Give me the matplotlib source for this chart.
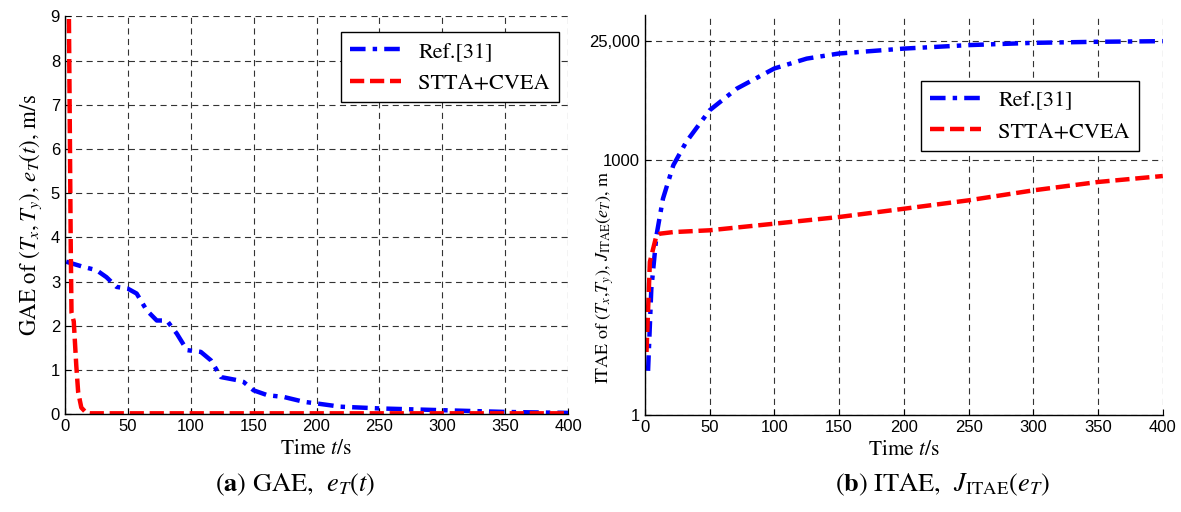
import matplotlib
matplotlib.use("Agg")
import matplotlib.pyplot as plt
from matplotlib.ticker import FixedLocator, NullLocator

# (a) GAE over time
t_ref_a = [1, 15, 25, 33, 41, 50, 57, 65, 73, 81, 89, 97, 108, 116, 124, 137, 142,
           150, 161, 174, 190, 201, 219, 251, 301, 352, 400]
gae_ref = [3.45, 3.33, 3.26, 3.10, 2.88, 2.84, 2.73, 2.35, 2.12, 2.12, 1.82, 1.45, 1.41,
           1.22, 0.84, 0.77, 0.73, 0.54, 0.43, 0.39, 0.28, 0.24, 0.17, 0.13, 0.09, 0.05, 0.03]
t_stta_a = [3, 4, 4.6, 5.2, 7, 9, 10.5, 13, 17, 20, 400]
gae_stta = [9.5, 6.0, 3.8, 2.3, 2.1, 1.1, 0.5, 0.15, 0.03, 0.02, 0.02]

# (b) ITAE over time
t_ref_b = [2.5, 5, 9, 14, 22, 32, 50, 71, 100, 125, 150, 200, 250, 300, 350, 400]
itae_ref = [3.3, 30, 129, 348, 860, 1620, 3800, 6840, 11800, 15400, 17700, 20200,
            22200, 23600, 24300, 24700]
t_stta_b = [1.3, 3.9, 9, 11.6, 22, 50, 100, 150, 200, 250, 300, 350, 400]
itae_stta = [5.5, 63, 129, 135, 141, 148, 177, 212, 265, 333, 436, 547, 643]

x_ticks = [0, 50, 100, 150, 200, 250, 300, 350, 400]
itae_ticks = [1, 1000, 25000]
itae_tick_labels = ["1", "1000", "25,000"]
labels = ["Ref.[31]", "STTA+CVEA"]

plt.rcParams["mathtext.fontset"] = "stix"
SERIF = "STIXGeneral"
SANS = "Liberation Sans"

fig = plt.figure(figsize=(11.81, 5.12), dpi=100)
ax1 = fig.add_axes([0.055, 0.191, 0.426, 0.777])
ax2 = fig.add_axes([0.546, 0.1895, 0.4386, 0.781])

ref_style = dict(color="#0000ff", lw=3.2, linestyle=(0, (3.5, 1.6, 1.0, 1.6)))
stta_style = dict(color="#ff0000", lw=3.2, linestyle=(0, (3.2, 1.3)))

ax1.plot(t_ref_a, gae_ref, label=labels[0], **ref_style)
ax1.plot(t_stta_a, gae_stta, label=labels[1], **stta_style)
ax1.set_xlim(0, 400)
ax1.set_ylim(0, 9)
ax1.set_xticks(x_ticks)
ax1.set_yticks(range(10))
ax1.set_xlabel(r"Time $t$/s", family=SERIF, fontsize=15.5, labelpad=4)
ax1.set_ylabel(r"GAE of $(T_x, T_y)$, $e_T(t)$, m/s", family=SERIF, fontsize=16.5, labelpad=5)

ax2.plot(t_ref_b, itae_ref, label=labels[0], **ref_style)
ax2.plot(t_stta_b, itae_stta, label=labels[1], **stta_style)
ax2.set_yscale("log")
ax2.set_xlim(0, 400)
ax2.set_ylim(1, 5e4)
ax2.set_xticks(x_ticks)
ax2.yaxis.set_major_locator(FixedLocator(itae_ticks))
ax2.set_yticklabels(itae_tick_labels)
ax2.yaxis.set_minor_locator(NullLocator())
ax2.set_xlabel(r"Time $t$/s", family=SERIF, fontsize=15.5, labelpad=4)
ax2.set_ylabel(r"ITAE of $(T_x{,}T_y)$, $J_{\mathrm{ITAE}}(e_T)$, m", family=SERIF, fontsize=13)
ax2.yaxis.set_label_coords(-0.055, 0.345)

for ax in (ax1, ax2):
    ax.spines["top"].set_visible(False)
    ax.spines["right"].set_visible(False)
    for s in ("left", "bottom"):
        ax.spines[s].set_linewidth(1.0)
    ax.grid(True, color="0.2", lw=0.8, linestyle=(0, (5.5, 4)))
    ax.tick_params(direction="in", length=4, width=0.8, labelsize=12)
    for lab in ax.get_xticklabels() + ax.get_yticklabels():
        lab.set_family(SANS)

leg_kw = dict(loc="upper right", borderaxespad=0, fancybox=False, framealpha=1,
              edgecolor="black", handlelength=2.3, prop={"family": SERIF, "size": 16})
l1 = ax1.legend(bbox_to_anchor=(0.982, 0.96), **leg_kw)
l2 = ax2.legend(bbox_to_anchor=(0.954, 0.835), **leg_kw)
for l in (l1, l2):
    l.get_frame().set_linewidth(1.0)

fig.text(0.25, 0.053, r"($\mathbf{a}$) GAE,  $e_T(t)$", family=SERIF, fontsize=19,
         ha="center", va="center")
fig.text(0.798, 0.053, r"($\mathbf{b}$) ITAE,  $J_{\mathrm{ITAE}}(e_T)$", family=SERIF,
         fontsize=19, ha="center", va="center")

fig.savefig("out.png", dpi=100)
